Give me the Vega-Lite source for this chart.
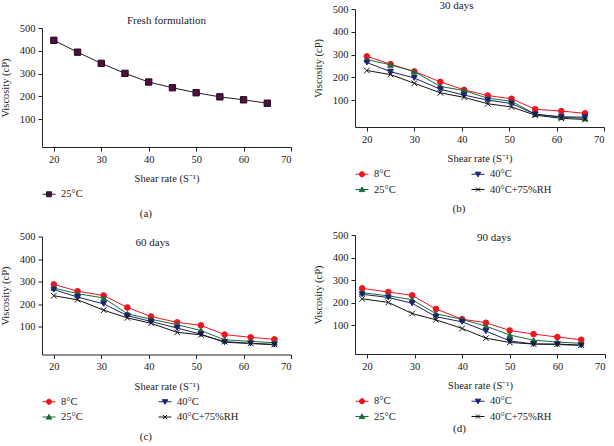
{
  "$schema": "https://vega.github.io/schema/vega-lite/v6.json",
  "padding": {"left": 0, "top": 0, "right": 0, "bottom": 0},
  "config": {
    "font": "Liberation Serif",
    "view": {"stroke": null},
    "axis": {
      "grid": false,
      "domainColor": "#222",
      "tickColor": "#222",
      "labelColor": "#222",
      "titleColor": "#222",
      "labelFont": "Liberation Serif",
      "titleFont": "Liberation Serif",
      "labelFontSize": 10.5,
      "titleFontSize": 10.5,
      "titleFontWeight": "normal",
      "tickSize": 4,
      "labelPadding": 3
    },
    "axisX": {"titlePadding": 9},
    "axisY": {"titlePadding": 9},
    "title": {"font": "Liberation Serif", "fontSize": 11, "fontWeight": "normal", "color": "#222", "anchor": "middle"},
    "legend": {
      "orient": "bottom",
      "columns": 2,
      "columnPadding": 73,
      "rowPadding": 2.5,
      "symbolSize": 169,
      "symbolStrokeWidth": 1,
      "labelFont": "Liberation Serif",
      "labelFontSize": 10.5,
      "labelColor": "#222",
      "labelOffset": 5,
      "offset": 3,
      "padding": 0
    }
  },
  "resolve": {"scale": {"fill": "independent", "stroke": "independent", "shape": "independent"}, "legend": {"fill": "independent", "stroke": "independent", "shape": "independent"}},
  "datasets": {
    "fresh": [
      {"series": "25°C", "shear": 20, "visc": 446},
      {"series": "25°C", "shear": 25, "visc": 394},
      {"series": "25°C", "shear": 30, "visc": 345},
      {"series": "25°C", "shear": 35, "visc": 301},
      {"series": "25°C", "shear": 40, "visc": 263},
      {"series": "25°C", "shear": 45, "visc": 238},
      {"series": "25°C", "shear": 50, "visc": 216},
      {"series": "25°C", "shear": 55, "visc": 198},
      {"series": "25°C", "shear": 60, "visc": 185},
      {"series": "25°C", "shear": 65, "visc": 170}
    ],
    "d30": [
      {"series": "8°C", "shear": 20, "visc": 292}, {"series": "8°C", "shear": 25, "visc": 258}, {"series": "8°C", "shear": 30, "visc": 226}, {"series": "8°C", "shear": 35.5, "visc": 180}, {"series": "8°C", "shear": 40.5, "visc": 145}, {"series": "8°C", "shear": 45.5, "visc": 120}, {"series": "8°C", "shear": 50.5, "visc": 106}, {"series": "8°C", "shear": 55.5, "visc": 60}, {"series": "8°C", "shear": 61, "visc": 52}, {"series": "8°C", "shear": 66, "visc": 42},
      {"series": "25°C", "shear": 20, "visc": 278}, {"series": "25°C", "shear": 25, "visc": 255}, {"series": "25°C", "shear": 30, "visc": 225}, {"series": "25°C", "shear": 35.5, "visc": 160}, {"series": "25°C", "shear": 40.5, "visc": 142}, {"series": "25°C", "shear": 45.5, "visc": 108}, {"series": "25°C", "shear": 50.5, "visc": 95}, {"series": "25°C", "shear": 55.5, "visc": 38}, {"series": "25°C", "shear": 61, "visc": 25}, {"series": "25°C", "shear": 66, "visc": 20},
      {"series": "40°C", "shear": 20, "visc": 265}, {"series": "40°C", "shear": 25, "visc": 225}, {"series": "40°C", "shear": 30, "visc": 197}, {"series": "40°C", "shear": 35.5, "visc": 148}, {"series": "40°C", "shear": 40.5, "visc": 122}, {"series": "40°C", "shear": 45.5, "visc": 100}, {"series": "40°C", "shear": 50.5, "visc": 85}, {"series": "40°C", "shear": 55.5, "visc": 38}, {"series": "40°C", "shear": 61, "visc": 27}, {"series": "40°C", "shear": 66, "visc": 25},
      {"series": "40°C+75%RH", "shear": 20, "visc": 230}, {"series": "40°C+75%RH", "shear": 25, "visc": 212}, {"series": "40°C+75%RH", "shear": 30, "visc": 174}, {"series": "40°C+75%RH", "shear": 35.5, "visc": 132}, {"series": "40°C+75%RH", "shear": 40.5, "visc": 112}, {"series": "40°C+75%RH", "shear": 45.5, "visc": 84}, {"series": "40°C+75%RH", "shear": 50.5, "visc": 70}, {"series": "40°C+75%RH", "shear": 55.5, "visc": 34}, {"series": "40°C+75%RH", "shear": 61, "visc": 20}, {"series": "40°C+75%RH", "shear": 66, "visc": 15}
    ],
    "d60": [
      {"series": "8°C", "shear": 20, "visc": 288}, {"series": "8°C", "shear": 25, "visc": 258}, {"series": "8°C", "shear": 30.5, "visc": 239}, {"series": "8°C", "shear": 35.5, "visc": 186}, {"series": "8°C", "shear": 40.5, "visc": 146}, {"series": "8°C", "shear": 46, "visc": 120}, {"series": "8°C", "shear": 51, "visc": 107}, {"series": "8°C", "shear": 56, "visc": 66}, {"series": "8°C", "shear": 61.5, "visc": 54}, {"series": "8°C", "shear": 66.5, "visc": 45},
      {"series": "25°C", "shear": 20, "visc": 272}, {"series": "25°C", "shear": 25, "visc": 247}, {"series": "25°C", "shear": 30.5, "visc": 228}, {"series": "25°C", "shear": 35.5, "visc": 158}, {"series": "25°C", "shear": 40.5, "visc": 134}, {"series": "25°C", "shear": 46, "visc": 110}, {"series": "25°C", "shear": 51, "visc": 84}, {"series": "25°C", "shear": 56, "visc": 43}, {"series": "25°C", "shear": 61.5, "visc": 36}, {"series": "25°C", "shear": 66.5, "visc": 30},
      {"series": "40°C", "shear": 20, "visc": 265}, {"series": "40°C", "shear": 25, "visc": 232}, {"series": "40°C", "shear": 30.5, "visc": 202}, {"series": "40°C", "shear": 35.5, "visc": 150}, {"series": "40°C", "shear": 40.5, "visc": 124}, {"series": "40°C", "shear": 46, "visc": 95}, {"series": "40°C", "shear": 51, "visc": 68}, {"series": "40°C", "shear": 56, "visc": 32}, {"series": "40°C", "shear": 61.5, "visc": 27}, {"series": "40°C", "shear": 66.5, "visc": 22},
      {"series": "40°C+75%RH", "shear": 20, "visc": 238}, {"series": "40°C+75%RH", "shear": 25, "visc": 220}, {"series": "40°C+75%RH", "shear": 30.5, "visc": 174}, {"series": "40°C+75%RH", "shear": 35.5, "visc": 140}, {"series": "40°C+75%RH", "shear": 40.5, "visc": 116}, {"series": "40°C+75%RH", "shear": 46, "visc": 76}, {"series": "40°C+75%RH", "shear": 51, "visc": 65}, {"series": "40°C+75%RH", "shear": 56, "visc": 35}, {"series": "40°C+75%RH", "shear": 61.5, "visc": 27}, {"series": "40°C+75%RH", "shear": 66.5, "visc": 22}
    ],
    "d90": [
      {"series": "8°C", "shear": 19, "visc": 264}, {"series": "8°C", "shear": 24.5, "visc": 248}, {"series": "8°C", "shear": 29.5, "visc": 233}, {"series": "8°C", "shear": 34.5, "visc": 173}, {"series": "8°C", "shear": 40, "visc": 128}, {"series": "8°C", "shear": 45, "visc": 112}, {"series": "8°C", "shear": 50, "visc": 78}, {"series": "8°C", "shear": 55, "visc": 62}, {"series": "8°C", "shear": 60, "visc": 49}, {"series": "8°C", "shear": 65, "visc": 37},
      {"series": "25°C", "shear": 19, "visc": 245}, {"series": "25°C", "shear": 24.5, "visc": 231}, {"series": "25°C", "shear": 29.5, "visc": 214}, {"series": "25°C", "shear": 34.5, "visc": 152}, {"series": "25°C", "shear": 40, "visc": 127}, {"series": "25°C", "shear": 45, "visc": 97}, {"series": "25°C", "shear": 50, "visc": 58}, {"series": "25°C", "shear": 55, "visc": 35}, {"series": "25°C", "shear": 60, "visc": 27}, {"series": "25°C", "shear": 65, "visc": 21},
      {"series": "40°C", "shear": 19, "visc": 238}, {"series": "40°C", "shear": 24.5, "visc": 224}, {"series": "40°C", "shear": 29.5, "visc": 198}, {"series": "40°C", "shear": 34.5, "visc": 139}, {"series": "40°C", "shear": 40, "visc": 116}, {"series": "40°C", "shear": 45, "visc": 75}, {"series": "40°C", "shear": 50, "visc": 32}, {"series": "40°C", "shear": 55, "visc": 18}, {"series": "40°C", "shear": 60, "visc": 16}, {"series": "40°C", "shear": 65, "visc": 12},
      {"series": "40°C+75%RH", "shear": 19, "visc": 218}, {"series": "40°C+75%RH", "shear": 24.5, "visc": 202}, {"series": "40°C+75%RH", "shear": 29.5, "visc": 153}, {"series": "40°C+75%RH", "shear": 34.5, "visc": 125}, {"series": "40°C+75%RH", "shear": 40, "visc": 87}, {"series": "40°C+75%RH", "shear": 45, "visc": 44}, {"series": "40°C+75%RH", "shear": 50, "visc": 25}, {"series": "40°C+75%RH", "shear": 55, "visc": 18}, {"series": "40°C+75%RH", "shear": 60, "visc": 18}, {"series": "40°C+75%RH", "shear": 65, "visc": 13}
    ]
  },
  "hconcat": [
    {
      "spacing": 12.5,
      "resolve": {"scale": {"fill": "independent", "stroke": "independent", "shape": "independent"}, "legend": {"fill": "independent", "stroke": "independent", "shape": "independent"}},
      "vconcat": [
        {
          "spacing": 4,
          "resolve": {"scale": {"fill": "independent", "stroke": "independent", "shape": "independent"}, "legend": {"fill": "independent", "stroke": "independent", "shape": "independent"}},
          "vconcat": [
            {"width": 1, "height": 1, "data": {"values": []}, "mark": {"type": "point", "opacity": 0}},
            {
              "title": {"text": "(a)", "orient": "bottom", "offset": 8, "anchor": "middle", "fontWeight": "normal"},
              "resolve": {"scale": {"fill": "independent", "stroke": "independent", "shape": "independent"}, "legend": {"fill": "independent", "stroke": "independent", "shape": "independent"}},
              "vconcat": [
                {
                  "title": {"text": "Fresh formulation", "offset": -2.5, "frame": "group", "anchor": "middle", "fontWeight": "normal"},
                  "width": 249, "height": 119,
                  "data": {"name": "fresh"},
                  "encoding": {
                    "x": {"field": "shear", "type": "quantitative", "scale": {"domain": [17.5, 70], "nice": false, "zero": false}, "axis": {"values": [20, 30, 40, 50, 60, 70], "title": "Shear rate (S⁻¹)"}},
                    "y": {"field": "visc", "type": "quantitative", "scale": {"domain": [-22, 500], "nice": false, "zero": false}, "axis": {"values": [100, 200, 300, 400, 500], "title": "Viscosity (cP)"}}
                  },
                  "resolve": {"scale": {"fill": "independent", "stroke": "independent", "shape": "independent"}, "legend": {"fill": "independent", "stroke": "independent", "shape": "independent"}},
                  "layer": [
                    {"mark": {"type": "line", "strokeWidth": 1}, "encoding": {"stroke": {"field": "series", "type": "nominal", "legend": null, "scale": {"domain": ["25°C"], "range": ["#2a1a26"]}}}},
                    {"mark": {"type": "point", "filled": true, "opacity": 1, "size": 40, "strokeWidth": 1},
                     "encoding": {
                       "fill": {"field": "series", "type": "nominal", "legend": null, "scale": {"domain": ["25°C"], "range": ["#4f0f42"]}},
                       "stroke": {"field": "series", "type": "nominal", "legend": null, "scale": {"domain": ["25°C"], "range": ["#1e0a18"]}},
                       "shape": {"field": "series", "type": "nominal", "legend": null, "scale": {"domain": ["25°C"], "range": ["square"]}}
                     }},
                    {"transform": [{"filter": "false"}],
                     "mark": {"type": "point", "filled": true, "opacity": 1, "strokeWidth": 1},
                     "encoding": {
                       "fill": {"field": "series", "type": "nominal", "title": null, "scale": {"domain": ["25°C"], "range": ["#4f0f42"]}},
                       "stroke": {"field": "series", "type": "nominal", "title": null, "scale": {"domain": ["25°C"], "range": ["#2a1a26"]}},
                       "shape": {"field": "series", "type": "nominal", "title": null, "scale": {"domain": ["25°C"], "range": ["M-1,0H1M-0.38,-0.38H0.38V0.38H-0.38Z"]}}
                     }}
                  ]
                }
              ]
            }
          ]
        },
        {
          "title": {"text": "(c)", "orient": "bottom", "offset": 8, "anchor": "middle", "fontWeight": "normal"},
          "resolve": {"scale": {"fill": "independent", "stroke": "independent", "shape": "independent"}, "legend": {"fill": "independent", "stroke": "independent", "shape": "independent"}},
          "vconcat": [
            {
              "title": {"text": "60 days", "offset": -16, "frame": "group", "dx": -14, "anchor": "middle", "fontWeight": "normal"},
              "width": 249, "height": 118,
              "data": {"name": "d60"},
              "encoding": {
                "x": {"field": "shear", "type": "quantitative", "scale": {"domain": [17.5, 70], "nice": false, "zero": false}, "axis": {"values": [20, 30, 40, 50, 60, 70], "title": "Shear rate (S⁻¹)"}},
                "y": {"field": "visc", "type": "quantitative", "scale": {"domain": [-22, 500], "nice": false, "zero": false}, "axis": {"values": [100, 200, 300, 400, 500], "title": "Viscosity (cP)"}}
              },
              "resolve": {"scale": {"fill": "independent", "stroke": "independent", "shape": "independent"}, "legend": {"fill": "independent", "stroke": "independent", "shape": "independent"}},
              "layer": [
                {"mark": {"type": "line", "strokeWidth": 1}, "encoding": {"stroke": {"field": "series", "type": "nominal", "legend": null, "scale": {"domain": ["8°C", "40°C", "25°C", "40°C+75%RH"], "range": ["#f0141e", "#1c2270", "#1a6b38", "#111111"]}}}},
                {"mark": {"type": "point", "filled": true, "opacity": 1, "size": 32, "strokeWidth": 1},
                 "encoding": {
                   "fill": {"field": "series", "type": "nominal", "legend": null, "scale": {"domain": ["8°C", "40°C", "25°C", "40°C+75%RH"], "range": ["#f0141e", "#1c2270", "#1a6b38", "#111111"]}},
                   "stroke": {"field": "series", "type": "nominal", "legend": null, "scale": {"domain": ["8°C", "40°C", "25°C", "40°C+75%RH"], "range": ["#f0141e", "#1c2270", "#1a6b38", "#111111"]}},
                   "shape": {"field": "series", "type": "nominal", "legend": null, "scale": {"domain": ["8°C", "40°C", "25°C", "40°C+75%RH"], "range": ["circle", "triangle-down", "triangle-up", "M-1,-1L1,1M-1,1L1,-1"]}}
                 }},
                {"transform": [{"filter": "false"}],
                 "mark": {"type": "point", "filled": true, "opacity": 1, "strokeWidth": 1},
                 "encoding": {
                   "fill": {"field": "series", "type": "nominal", "title": null, "scale": {"domain": ["8°C", "40°C", "25°C", "40°C+75%RH"], "range": ["#f0141e", "#1c2270", "#1a6b38", "#111111"]}},
                   "stroke": {"field": "series", "type": "nominal", "title": null, "scale": {"domain": ["8°C", "40°C", "25°C", "40°C+75%RH"], "range": ["#f0141e", "#1c2270", "#1a6b38", "#111111"]}},
                   "shape": {"field": "series", "type": "nominal", "title": null, "scale": {"domain": ["8°C", "40°C", "25°C", "40°C+75%RH"], "range": ["M-1,0H1M-0.4,0A0.4,0.4 0 1,0 0.4,0A0.4,0.4 0 1,0 -0.4,0Z", "M-1,0H1M-0.42,-0.32L0.42,-0.32L0,0.4Z", "M-1,0H1M-0.42,0.32L0.42,0.32L0,-0.4Z", "M-1,0H1M-0.32,-0.32L0.32,0.32M-0.32,0.32L0.32,-0.32"]}}
                 }}
              ]
            }
          ]
        }
      ]
    },
    {
      "spacing": 16,
      "resolve": {"scale": {"fill": "independent", "stroke": "independent", "shape": "independent"}, "legend": {"fill": "independent", "stroke": "independent", "shape": "independent"}},
      "vconcat": [
        {
          "title": {"text": "(b)", "orient": "bottom", "offset": 8, "anchor": "middle", "fontWeight": "normal"},
          "resolve": {"scale": {"fill": "independent", "stroke": "independent", "shape": "independent"}, "legend": {"fill": "independent", "stroke": "independent", "shape": "independent"}},
          "vconcat": [
            {
              "title": {"text": "30 days", "offset": -7, "frame": "group", "dx": -23, "anchor": "middle", "fontWeight": "normal"},
              "width": 249, "height": 118,
              "data": {"name": "d30"},
              "encoding": {
                "x": {"field": "shear", "type": "quantitative", "scale": {"domain": [17.5, 70], "nice": false, "zero": false}, "axis": {"values": [20, 30, 40, 50, 60, 70], "title": "Shear rate (S⁻¹)"}},
                "y": {"field": "visc", "type": "quantitative", "scale": {"domain": [-18, 500], "nice": false, "zero": false}, "axis": {"values": [100, 200, 300, 400, 500], "title": "Viscosity (cP)"}}
              },
              "resolve": {"scale": {"fill": "independent", "stroke": "independent", "shape": "independent"}, "legend": {"fill": "independent", "stroke": "independent", "shape": "independent"}},
              "layer": [
                {"mark": {"type": "line", "strokeWidth": 1}, "encoding": {"stroke": {"field": "series", "type": "nominal", "legend": null, "scale": {"domain": ["8°C", "40°C", "25°C", "40°C+75%RH"], "range": ["#f0141e", "#1c2270", "#1a6b38", "#111111"]}}}},
                {"mark": {"type": "point", "filled": true, "opacity": 1, "size": 32, "strokeWidth": 1},
                 "encoding": {
                   "fill": {"field": "series", "type": "nominal", "legend": null, "scale": {"domain": ["8°C", "40°C", "25°C", "40°C+75%RH"], "range": ["#f0141e", "#1c2270", "#1a6b38", "#111111"]}},
                   "stroke": {"field": "series", "type": "nominal", "legend": null, "scale": {"domain": ["8°C", "40°C", "25°C", "40°C+75%RH"], "range": ["#f0141e", "#1c2270", "#1a6b38", "#111111"]}},
                   "shape": {"field": "series", "type": "nominal", "legend": null, "scale": {"domain": ["8°C", "40°C", "25°C", "40°C+75%RH"], "range": ["circle", "triangle-down", "triangle-up", "M-1,-1L1,1M-1,1L1,-1"]}}
                 }},
                {"transform": [{"filter": "false"}],
                 "mark": {"type": "point", "filled": true, "opacity": 1, "strokeWidth": 1},
                 "encoding": {
                   "fill": {"field": "series", "type": "nominal", "title": null, "scale": {"domain": ["8°C", "40°C", "25°C", "40°C+75%RH"], "range": ["#f0141e", "#1c2270", "#1a6b38", "#111111"]}},
                   "stroke": {"field": "series", "type": "nominal", "title": null, "scale": {"domain": ["8°C", "40°C", "25°C", "40°C+75%RH"], "range": ["#f0141e", "#1c2270", "#1a6b38", "#111111"]}},
                   "shape": {"field": "series", "type": "nominal", "title": null, "scale": {"domain": ["8°C", "40°C", "25°C", "40°C+75%RH"], "range": ["M-1,0H1M-0.4,0A0.4,0.4 0 1,0 0.4,0A0.4,0.4 0 1,0 -0.4,0Z", "M-1,0H1M-0.42,-0.32L0.42,-0.32L0,0.4Z", "M-1,0H1M-0.42,0.32L0.42,0.32L0,-0.4Z", "M-1,0H1M-0.32,-0.32L0.32,0.32M-0.32,0.32L0.32,-0.32"]}}
                 }}
              ]
            }
          ]
        },
        {
          "title": {"text": "(d)", "orient": "bottom", "offset": 1, "anchor": "middle", "fontWeight": "normal"},
          "resolve": {"scale": {"fill": "independent", "stroke": "independent", "shape": "independent"}, "legend": {"fill": "independent", "stroke": "independent", "shape": "independent"}},
          "vconcat": [
            {
              "title": {"text": "90 days", "offset": -12.5, "frame": "group", "dx": 14, "anchor": "middle", "fontWeight": "normal"},
              "width": 250, "height": 119,
              "data": {"name": "d90"},
              "encoding": {
                "x": {"field": "shear", "type": "quantitative", "scale": {"domain": [17.5, 70], "nice": false, "zero": false}, "axis": {"values": [20, 30, 40, 50, 60, 70], "title": "Shear rate (S⁻¹)"}},
                "y": {"field": "visc", "type": "quantitative", "scale": {"domain": [-26, 500], "nice": false, "zero": false}, "axis": {"values": [100, 200, 300, 400, 500], "title": "Viscosity (cP)"}}
              },
              "resolve": {"scale": {"fill": "independent", "stroke": "independent", "shape": "independent"}, "legend": {"fill": "independent", "stroke": "independent", "shape": "independent"}},
              "layer": [
                {"mark": {"type": "line", "strokeWidth": 1}, "encoding": {"stroke": {"field": "series", "type": "nominal", "legend": null, "scale": {"domain": ["8°C", "40°C", "25°C", "40°C+75%RH"], "range": ["#f0141e", "#1c2270", "#1a6b38", "#111111"]}}}},
                {"mark": {"type": "point", "filled": true, "opacity": 1, "size": 32, "strokeWidth": 1},
                 "encoding": {
                   "fill": {"field": "series", "type": "nominal", "legend": null, "scale": {"domain": ["8°C", "40°C", "25°C", "40°C+75%RH"], "range": ["#f0141e", "#1c2270", "#1a6b38", "#111111"]}},
                   "stroke": {"field": "series", "type": "nominal", "legend": null, "scale": {"domain": ["8°C", "40°C", "25°C", "40°C+75%RH"], "range": ["#f0141e", "#1c2270", "#1a6b38", "#111111"]}},
                   "shape": {"field": "series", "type": "nominal", "legend": null, "scale": {"domain": ["8°C", "40°C", "25°C", "40°C+75%RH"], "range": ["circle", "triangle-down", "triangle-up", "M-1,-1L1,1M-1,1L1,-1"]}}
                 }},
                {"transform": [{"filter": "false"}],
                 "mark": {"type": "point", "filled": true, "opacity": 1, "strokeWidth": 1},
                 "encoding": {
                   "fill": {"field": "series", "type": "nominal", "title": null, "scale": {"domain": ["8°C", "40°C", "25°C", "40°C+75%RH"], "range": ["#f0141e", "#1c2270", "#1a6b38", "#111111"]}},
                   "stroke": {"field": "series", "type": "nominal", "title": null, "scale": {"domain": ["8°C", "40°C", "25°C", "40°C+75%RH"], "range": ["#f0141e", "#1c2270", "#1a6b38", "#111111"]}},
                   "shape": {"field": "series", "type": "nominal", "title": null, "scale": {"domain": ["8°C", "40°C", "25°C", "40°C+75%RH"], "range": ["M-1,0H1M-0.4,0A0.4,0.4 0 1,0 0.4,0A0.4,0.4 0 1,0 -0.4,0Z", "M-1,0H1M-0.42,-0.32L0.42,-0.32L0,0.4Z", "M-1,0H1M-0.42,0.32L0.42,0.32L0,-0.4Z", "M-1,0H1M-0.32,-0.32L0.32,0.32M-0.32,0.32L0.32,-0.32"]}}
                 }}
              ]
            }
          ]
        }
      ]
    }
  ],
  "spacing": 21
}
